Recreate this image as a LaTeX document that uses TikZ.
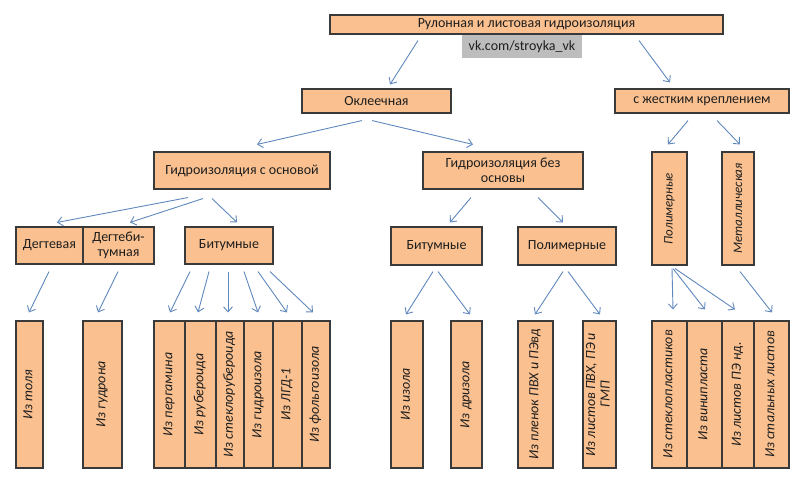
\documentclass[tikz,border=0pt]{standalone}
\usepackage{fontspec}
\setmainfont{Carlito}
\usetikzlibrary{arrows.meta}
\definecolor{boxfill}{HTML}{FAC08F}
\definecolor{boxline}{HTML}{3A3A3A}
\definecolor{arrcol}{HTML}{5F88BD}
\definecolor{txtcol}{HTML}{1E1E1E}
\definecolor{vkgray}{HTML}{BDBDBD}
\newcommand{\vtext}[1]{\rotatebox{90}{\fontsize{14}{14.5}\selectfont\itshape\begin{tabular}{@{}c@{}}#1\end{tabular}}}
\newcommand{\vtextsmall}[1]{\rotatebox{90}{\fontsize{13}{14}\selectfont\itshape #1}}
\tikzset{
  box/.style={draw=boxline, fill=boxfill, line width=1.1pt, inner sep=0pt,
    text=txtcol, font=\fontsize{14}{15.5}\selectfont, align=center},
  vbox/.style={box, minimum height=147pt},
  arr/.style={draw=arrcol, line width=0.9pt, -{Straight Barb[length=5pt,width=9pt]}},
}
\begin{document}
\begin{tikzpicture}[x=1pt,y=-1pt]
\useasboundingbox (0,0) rectangle (807,489);
% level 0
\node[box, minimum width=393pt, minimum height=19pt] (top) at (526.5,24.5) {Рулонная и листовая гидроизоляция};
\node[fill=vkgray, inner sep=0pt, minimum width=120pt, minimum height=23pt, text=txtcol, font=\fontsize{14}{15}\selectfont] (vk) at (522,46.5) {vk.com/stroyka\_vk};
% level 1
\node[box, minimum width=149pt, minimum height=24pt] (okl) at (376.5,101) {Оклеечная};
\node[box, minimum width=174pt, minimum height=24pt] (zhest) at (702,101) {с жестким креплением};
% level 2
\node[box, minimum width=176pt, minimum height=37pt] (sosn) at (242,170.5) {Гидроизоляция с основой};
\node[box, minimum width=160pt, minimum height=37pt] (bezosn) at (503,170.5) {Гидроизоляция без\\основы};
\node[box, minimum width=35pt, minimum height=113pt] (polV) at (669.5,208.5) {\vtextsmall{Полимерные}};
\node[box, minimum width=32pt, minimum height=113pt] (met) at (738,208.5) {\vtextsmall{Металлическая}};
% level 3
\node[box, minimum width=67pt, minimum height=37pt] (degt) at (49.5,245.5) {Дегтевая};
\node[box, minimum width=71pt, minimum height=37pt] (degtbit) at (118.5,245.5) {Дегтеби-\\тумная};
\node[box, minimum width=88pt, minimum height=37pt] (bit1) at (229,245.5) {Битумные};
\node[box, minimum width=91pt, minimum height=38pt] (bit2) at (436.5,246) {Битумные};
\node[box, minimum width=98pt, minimum height=38pt] (pol) at (567,246) {Полимерные};
% level 4
\node[vbox, minimum width=27pt] (tolya) at (29.5,394.5) {\vtext{Из толя}};
\node[vbox, minimum width=39pt] (gudron) at (102.5,394.5) {\vtext{Из гудрона}};
\node[vbox, minimum width=31pt] (pergamin) at (169.5,394.5) {\vtext{Из пергамина}};
\node[vbox, minimum width=31pt] (ruberoid) at (200.5,394.5) {\vtext{Из рубероида}};
\node[vbox, minimum width=28pt] (steklorub) at (230,394.5) {\vtext{Из стеклорубероида}};
\node[vbox, minimum width=29pt] (gidroizol) at (258.5,394.5) {\vtext{Из гидроизола}};
\node[vbox, minimum width=29pt] (lgd) at (287.5,394.5) {\vtext{Из ЛГД-1}};
\node[vbox, minimum width=28pt] (folgo) at (316,394.5) {\vtext{Из фольгоизола}};
\node[vbox, minimum width=32pt] (izol) at (407,394.5) {\vtext{Из изола}};
\node[vbox, minimum width=31pt] (drizol) at (466.5,394.5) {\vtext{Из дризола}};
\node[vbox, minimum width=35pt] (plenok) at (535.5,394.5) {\vtext{Из пленок ПВХ и ПЭвд}};
\node[vbox, minimum width=33pt] (listov) at (599.5,394.5) {\vtext{Из листов ПВХ, ПЭ и\\ГМП}};
\node[vbox, minimum width=35pt] (steklopl) at (669.5,394.5) {\vtext{Из стеклопластиков}};
\node[vbox, minimum width=35pt] (vinil) at (704.5,394.5) {\vtext{Из винипласта}};
\node[vbox, minimum width=32pt] (listovpe) at (738,394.5) {\vtext{Из листов ПЭ нд.}};
\node[vbox, minimum width=35pt] (stal) at (771.5,394.5) {\vtext{Из стальных листов}};
% arrows
\draw[arr] ([xshift=-108.5pt,yshift=-6pt]top.south) -- ([xshift=13.5pt,yshift=4pt]okl.north);
\draw[arr] ([xshift=112.5pt,yshift=-6pt]top.south) -- ([xshift=-32pt,yshift=6pt]zhest.north);
\draw[arr] ([xshift=-14.5pt,yshift=-7pt]okl.south) -- ([xshift=15pt,yshift=7pt]sosn.north);
\draw[arr] ([xshift=-4.5pt,yshift=-7pt]okl.south) -- ([xshift=-30pt,yshift=7pt]bezosn.north);
\draw[arr] ([xshift=-14pt,yshift=-7pt]zhest.south) -- ([xshift=-1.5pt,yshift=7pt]polV.north);
\draw[arr] ([xshift=15pt,yshift=-7pt]zhest.south) -- ([xshift=2pt,yshift=7pt]met.north);
\draw[arr] ([xshift=-54pt,yshift=-8pt]sosn.south) -- ([xshift=7.5pt,yshift=4pt]degt.north);
\draw[arr] ([xshift=-39pt,yshift=-9pt]sosn.south) -- ([xshift=11.5pt,yshift=4pt]degtbit.north);
\draw[arr] ([xshift=-30pt,yshift=-9pt]sosn.south) -- ([xshift=8pt,yshift=4pt]bit1.north);
\draw[arr] ([xshift=-32pt,yshift=-8pt]bezosn.south) -- ([xshift=13.5pt,yshift=4pt]bit2.north);
\draw[arr] ([xshift=35pt,yshift=-8pt]bezosn.south) -- ([xshift=-4pt,yshift=4pt]pol.north);
\draw[arr] ([xshift=-0.5pt,yshift=-7pt]degt.south) -- ([xshift=-0.5pt,yshift=8pt]tolya.north);
\draw[arr] ([xshift=-0.5pt,yshift=-7pt]degtbit.south) -- ([xshift=-4.5pt,yshift=8pt]gudron.north);
\draw[arr] ([xshift=-39pt,yshift=-7pt]bit1.south) -- ([xshift=0.5pt,yshift=8pt]pergamin.north);
\draw[arr] ([xshift=-20pt,yshift=-7pt]bit1.south) -- ([xshift=-2.5pt,yshift=8pt]ruberoid.north);
\draw[arr] ([xshift=-1pt,yshift=-7pt]bit1.south) -- ([xshift=-2pt,yshift=8pt]steklorub.north);
\draw[arr] ([xshift=15pt,yshift=-7pt]bit1.south) -- ([xshift=-0.5pt,yshift=8pt]gidroizol.north);
\draw[arr] ([xshift=29pt,yshift=-7pt]bit1.south) -- ([xshift=-0.5pt,yshift=8pt]lgd.north);
\draw[arr] ([xshift=41pt,yshift=-7pt]bit1.south) -- ([xshift=-3pt,yshift=8pt]folgo.north);
\draw[arr] ([xshift=-3.5pt,yshift=-6pt]bit2.south) -- ([xshift=-1pt,yshift=6pt]izol.north);
\draw[arr] ([xshift=1.5pt,yshift=-6pt]bit2.south) -- ([xshift=3.5pt,yshift=6pt]drizol.north);
\draw[arr] ([xshift=-4pt,yshift=-6pt]pol.south) -- ([xshift=-0.5pt,yshift=6pt]plenok.north);
\draw[arr] ([xshift=1pt,yshift=-6pt]pol.south) -- ([xshift=0.5pt,yshift=6pt]listov.north);
\draw[arr] ([xshift=2.5pt,yshift=-3pt]polV.south) -- ([xshift=3.5pt,yshift=11pt]steklopl.north);
\draw[arr] ([xshift=3.5pt,yshift=-3pt]polV.south) -- ([xshift=0.5pt,yshift=11pt]vinil.north);
\draw[arr] ([xshift=5.5pt,yshift=-3pt]polV.south) -- ([xshift=-3pt,yshift=11pt]listovpe.north);
\draw[arr] ([xshift=2pt,yshift=-6pt]met.south) -- ([xshift=0.5pt,yshift=8pt]stal.north);
\end{tikzpicture}
\end{document}
